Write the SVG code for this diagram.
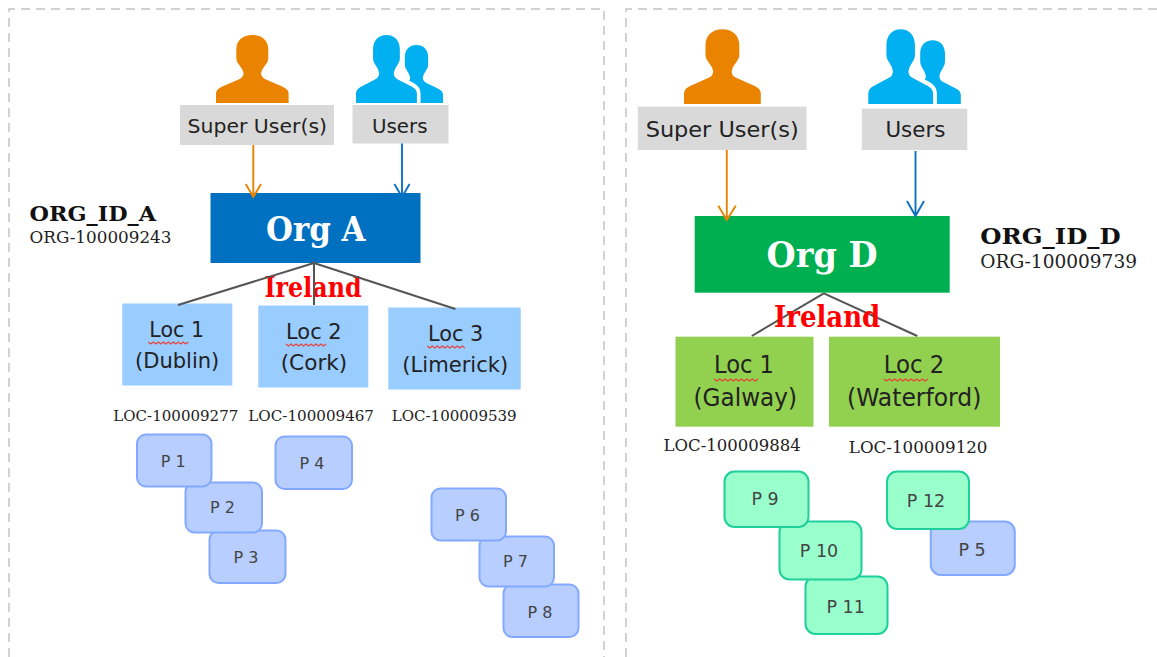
<svg xmlns="http://www.w3.org/2000/svg" xmlns:xlink="http://www.w3.org/1999/xlink" width="1157" height="657" viewBox="0 0 1157 657">
<style>
text{font-family:"DejaVu Sans","Liberation Sans",sans-serif;fill:#222}
.panel{fill:none;stroke:#c4c4c4;stroke-width:1.5;stroke-dasharray:9 6}
.gray{fill:#d9d9d9}
.role{font-size:19px}
.roleD{font-size:21px}
.orgname{font-family:"DejaVu Serif","Liberation Serif",serif;font-weight:700;font-size:33px;fill:#fff}
.orgnameD{font-size:36px}
.orgid{font-family:"DejaVu Serif","Liberation Serif",serif;font-weight:700;font-size:20px;fill:#111}
.orgidD{font-size:22px}
.orgnum{font-family:"DejaVu Serif","Liberation Serif",serif;font-size:16.5px;fill:#222}
.orgnumD{font-size:18.5px}
.ireland{font-family:"DejaVu Serif","Liberation Serif",serif;font-weight:700;font-size:27px;fill:#ff0000}
.irelandD{font-size:30px}
.loc{font-size:22px}
.locD{font-size:24px}
.lblue{fill:#99ccff}
.lgreen{fill:#92d050}
.locid{font-family:"DejaVu Serif","Liberation Serif",serif;font-size:15.5px;fill:#222}
.locidD{font-size:17px}
.squig{fill:none;stroke:#e8433a;stroke-width:1.2}
.pb{fill:#b7ceff;stroke:#82a9ff;stroke-width:2}
.pg{fill:#99ffcc;stroke:#1fd09c;stroke-width:2}
.pt{font-size:16px;fill:#444;text-anchor:middle}
.pt2{font-size:17.500px;fill:#444;text-anchor:middle}
.tree{stroke:#555;stroke-width:2;fill:none}
.arrO{stroke:#e98300;stroke-width:1.9;fill:none}
.arrB{stroke:#0f70c0;stroke-width:1.9;fill:none}
</style>
<defs>
<path id="person" d="M50 0C63 0 72 8 72 21L72 31Q73 38 68 44Q63 50 62 56Q62 62 68 65L92 76Q100 80 100 86V100H0V86Q0 80 8 76L32 65Q38 62 38 56Q37 50 32 44Q27 38 28 31L28 21C28 8 37 0 50 0Z"/>
<g id="pair">
<use xlink:href="#person" href="#person" transform="translate(39,14.7) scale(.61,.853)" fill="#00b0f0"/>
<use xlink:href="#person" href="#person" transform="scale(.7,1)" fill="#00b0f0" stroke="#fff" stroke-width="12" paint-order="stroke" style="vector-effect:non-scaling-stroke"/>
</g>
<clipPath id="aboveOrgA"><rect x="380" y="140" width="40" height="53"/></clipPath>
</defs>

<g id="panels">
<path class="panel" d="M9 657V9H604V657"/>
<path class="panel" d="M626 657V9H1157"/>
</g>

<g id="super-a"><use xlink:href="#person" href="#person" transform="translate(216,35) scale(.726,.68)" fill="#e98300"/><rect class="gray" x="180" y="105" width="154" height="40"/><text class="role" x="187.500" y="133" textLength="139.500" lengthAdjust="spacingAndGlyphs">Super User(s)</text></g>
<g id="users-a"><use xlink:href="#pair" href="#pair" transform="translate(356,35) scale(.87,.68)"/><rect class="gray" x="352.500" y="105" width="96" height="38.500"/><text class="role" x="372" y="133" textLength="55.500" lengthAdjust="spacingAndGlyphs">Users</text></g>
<g id="org-a"><rect x="210.500" y="193" width="210" height="70" fill="#0070c0"/><text class="orgname" x="266" y="241" textLength="99.500" lengthAdjust="spacingAndGlyphs">Org A</text></g>
<g id="org-a-id"><text class="orgid" x="29.500" y="221" textLength="126.500" lengthAdjust="spacingAndGlyphs">ORG_ID_A</text><text class="orgnum" x="29.500" y="242.500" textLength="142" lengthAdjust="spacingAndGlyphs">ORG-100009243</text></g>
<text id="ireland-a" class="ireland" x="264.500" y="296.500" textLength="97" lengthAdjust="spacingAndGlyphs">Ireland</text>

<g id="loc-a1"><rect class="lblue" x="122.300" y="303.500" width="110" height="82"/><text class="loc" x="149.300" y="337.300" textLength="54.700" lengthAdjust="spacingAndGlyphs">Loc 1</text><text class="loc" x="135" y="368" textLength="84.300" lengthAdjust="spacingAndGlyphs">(Dublin)</text><path class="squig" d="M148.300 342l2.500 2 2.500-2 2.500 2 2.500-2 2.500 2 2.500-2 2.500 2 2.500-2 2.500 2 2.500-2 2.500 2 2.500-2 2.500 2 2.500-2 2.500 2 2.500-2"/><text class="locid" x="113.300" y="421.300" textLength="125" lengthAdjust="spacingAndGlyphs">LOC-100009277</text></g>
<g id="loc-a2"><rect class="lblue" x="258.300" y="305.500" width="110" height="82"/><text class="loc" x="286" y="339.300" textLength="55.700" lengthAdjust="spacingAndGlyphs">Loc 2</text><text class="loc" x="280.700" y="370" textLength="66.600" lengthAdjust="spacingAndGlyphs">(Cork)</text><path class="squig" d="M286 344l2.500 2 2.500-2 2.500 2 2.500-2 2.500 2 2.500-2 2.500 2 2.500-2 2.500 2 2.500-2 2.500 2 2.500-2 2.500 2 2.500-2 2.500 2 2.500-2"/><text class="locid" x="248.300" y="421.300" textLength="125.700" lengthAdjust="spacingAndGlyphs">LOC-100009467</text></g>
<g id="loc-a3"><rect class="lblue" x="388.300" y="307.500" width="132.400" height="82"/><text class="loc" x="428" y="341.300" textLength="55.300" lengthAdjust="spacingAndGlyphs">Loc 3</text><text class="loc" x="402.300" y="372" textLength="106" lengthAdjust="spacingAndGlyphs">(Limerick)</text><path class="squig" d="M427.300 346l2.500 2 2.500-2 2.500 2 2.500-2 2.500 2 2.500-2 2.500 2 2.500-2 2.500 2 2.500-2 2.500 2 2.500-2 2.500 2 2.500-2 2.500 2"/><text class="locid" x="391.700" y="421.300" textLength="125" lengthAdjust="spacingAndGlyphs">LOC-100009539</text></g>

<g id="p3"><rect class="pb" x="209.500" y="530.500" width="76" height="52.500" rx="9"/><text class="pt" x="246" y="563.300">P 3</text></g>
<g id="p2"><rect class="pb" x="185.500" y="482.500" width="76.500" height="50" rx="9"/><text class="pt" x="222.500" y="513">P 2</text></g>
<g id="p1"><rect class="pb" x="137" y="434.500" width="74.500" height="52" rx="9"/><text class="pt" x="173.300" y="467">P 1</text></g>
<g id="p4"><rect class="pb" x="275.500" y="436.500" width="76.500" height="52.500" rx="9"/><text class="pt" x="312" y="469.300">P 4</text></g>
<g id="p8"><rect class="pb" x="503.500" y="584.500" width="75" height="52.500" rx="9"/><text class="pt" x="540" y="617.700">P 8</text></g>
<g id="p7"><rect class="pb" x="479.500" y="536.500" width="74.500" height="50" rx="9"/><text class="pt" x="515.500" y="567.300">P 7</text></g>
<g id="p6"><rect class="pb" x="431.500" y="488.500" width="74.500" height="52" rx="9"/><text class="pt" x="467.500" y="521.300">P 6</text></g>

<g id="super-d"><use xlink:href="#person" href="#person" transform="translate(684,29.300) scale(.768,.747)" fill="#e98300"/><rect class="gray" x="637.800" y="106.700" width="168.800" height="43.300"/><text class="roleD" x="645.700" y="136.700" textLength="153" lengthAdjust="spacingAndGlyphs">Super User(s)</text></g>
<g id="users-d"><use xlink:href="#pair" href="#pair" transform="translate(868.300,29.300) scale(.925,.747)"/><rect class="gray" x="861.800" y="108.700" width="105.500" height="41.300"/><text class="roleD" x="885.400" y="136.700" textLength="60" lengthAdjust="spacingAndGlyphs">Users</text></g>
<g id="org-d"><rect x="694.700" y="216" width="255" height="76.700" fill="#00b050"/><text class="orgname orgnameD" x="766.600" y="267.300" textLength="111" lengthAdjust="spacingAndGlyphs">Org D</text></g>
<g id="org-d-id"><text class="orgid orgidD" x="980.300" y="244.300" textLength="140.400" lengthAdjust="spacingAndGlyphs">ORG_ID_D</text><text class="orgnum orgnumD" x="980.300" y="267.700" textLength="156.700" lengthAdjust="spacingAndGlyphs">ORG-100009739</text></g>

<g id="loc-d1"><rect class="lgreen" x="675.500" y="336.700" width="138" height="90"/><text class="locD" x="714" y="373.300" textLength="60" lengthAdjust="spacingAndGlyphs">Loc 1</text><text class="locD" x="693.600" y="406" textLength="103.400" lengthAdjust="spacingAndGlyphs">(Galway)</text><path class="squig" d="M714 379l2.750 2 2.750-2 2.750 2 2.750-2 2.750 2 2.750-2 2.750 2 2.750-2 2.750 2 2.750-2 2.750 2 2.750-2 2.750 2 2.750-2 2.750 2 2.750-2"/><text class="locid locidD" x="663.500" y="450.700" textLength="137.300" lengthAdjust="spacingAndGlyphs">LOC-100009884</text></g>
<g id="loc-d2"><rect class="lgreen" x="829" y="336.700" width="171" height="90"/><text class="locD" x="883.700" y="373.300" textLength="60.600" lengthAdjust="spacingAndGlyphs">Loc 2</text><text class="locD" x="847" y="406" textLength="134.300" lengthAdjust="spacingAndGlyphs">(Waterford)</text><path class="squig" d="M883.700 379l2.750 2 2.750-2 2.750 2 2.750-2 2.750 2 2.750-2 2.750 2 2.750-2 2.750 2 2.750-2 2.750 2 2.750-2 2.750 2 2.750-2 2.750 2 2.750-2"/><text class="locid locidD" x="848.800" y="452.700" textLength="138.700" lengthAdjust="spacingAndGlyphs">LOC-100009120</text></g>

<g id="p11"><rect class="pg" x="805.500" y="576.500" width="82" height="57.500" rx="10"/><text class="pt2" x="845.600" y="612.700">P 11</text></g>
<g id="p10"><rect class="pg" x="779.500" y="521.500" width="82" height="58" rx="10"/><text class="pt2" x="819" y="557.300">P 10</text></g>
<g id="p9"><rect class="pg" x="724.500" y="471.500" width="84" height="55.500" rx="10"/><text class="pt2" x="765" y="505">P 9</text></g>
<g id="p5"><rect class="pb" x="930.800" y="521.500" width="84" height="53.500" rx="10"/><text class="pt2" x="972" y="555.700">P 5</text></g>
<g id="p12"><rect class="pg" x="887" y="471.500" width="82" height="57.500" rx="10"/><text class="pt2" x="926" y="507.300">P 12</text></g>

<g id="connectors">
<path class="arrO" d="M253.300 145V197M245.700 184L253.300 197L261 184"/>
<path class="arrB" clip-path="url(#aboveOrgA)" d="M402 143.500V197M394.400 184L402 197L409.600 184"/>
<path class="tree" d="M314 263L178 305M314 261V305M314 263L455.400 309"/>
<path class="arrO" d="M726.800 150V220M718.300 205.700L726.800 220L735.800 205.700"/>
<path class="arrB" d="M915.500 151V216M907 201L915.500 216L924 201"/>
<path class="tree" d="M823.800 293.300L751.800 336M823.800 293.300L917.300 336"/>
</g>
<text id="ireland-d" class="ireland irelandD" x="774" y="326.700" textLength="106.300" lengthAdjust="spacingAndGlyphs">Ireland</text>
</svg>
